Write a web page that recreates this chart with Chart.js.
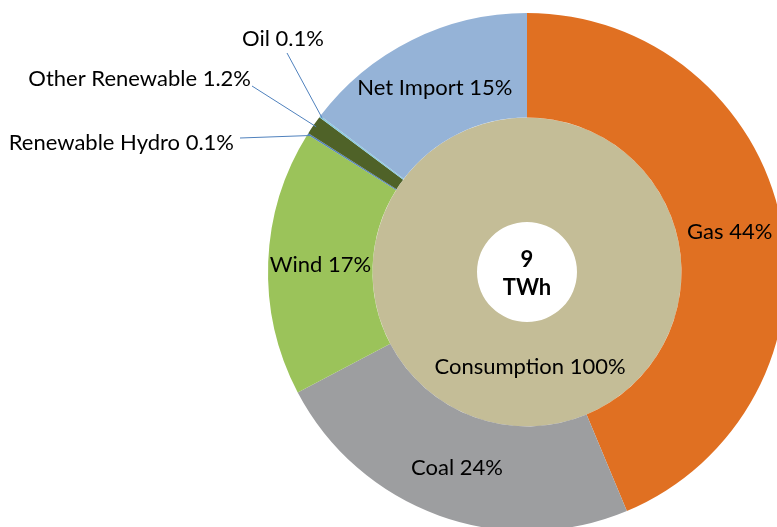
<!DOCTYPE html>
<html>
<head>
<meta charset="utf-8">
<script src="https://cdn.jsdelivr.net/npm/chart.js@4.4.1/dist/chart.umd.min.js"></script>
<style>
  html, body { margin: 0; padding: 0; background: #fff; overflow: hidden; width: 777px; height: 527px; }
  #chart { position: absolute; left: 0; top: 0; }
</style>
</head>
<body>
<canvas id="chart" width="800" height="560"></canvas>
<script>
const sources = ["Gas", "Coal", "Wind", "Renewable Hydro", "Other Renewable", "Oil", "Net Import"];
const sourceShares = [43.7, 23.6, 16.6, 0.1, 1.2, 0.1, 14.7];
const sourceColors = ["#E07022", "#9D9EA0", "#9BC35A", "#4F81BD", "#4F6228", "#8CCBE0", "#95B3D7"];
const uses = ["Consumption"];
const useShares = [100];
const useColors = ["#C4BD97"];
const totalLabel = ["9", "TWh"];

const FONT = "Lato, 'Open Sans', sans-serif";
const fmt = v => (v < 2 ? v.toFixed(1) : Math.round(v)) + "%";

// where the small slices get their callout text (right edge / centre of text)
const callouts = {
  "Renewable Hydro": { x: 234, y: 143, align: "right", lx: 240, ly: 138 },
  "Other Renewable": { x: 251, y: 79, align: "right", lx: 252, ly: 86 },
  "Oil": { x: 283, y: 39, align: "center", lx: 287, ly: 53 }
};

const labelPlugin = {
  id: "sliceLabels",
  afterDatasetsDraw(chart) {
    const ctx = chart.ctx;
    ctx.save();
    ctx.fillStyle = "#000";
    ctx.textBaseline = "middle";
    ctx.font = "22px " + FONT;
    chart.data.datasets.forEach((ds, di) => {
      const meta = chart.getDatasetMeta(di);
      meta.data.forEach((arc, i) => {
        const name = chart.data.labels[di][i];
        const text = name + " " + fmt(ds.data[i]);
        const c = callouts[name];
        if (c) {
          const p = arc.getProps(["x", "y", "startAngle", "endAngle", "outerRadius"], true);
          const a = (p.startAngle + p.endAngle) / 2;
          const r = p.outerRadius - 3;
          ctx.strokeStyle = "#4F81BD";
          ctx.lineWidth = 1;
          ctx.beginPath();
          ctx.moveTo(c.lx, c.ly);
          ctx.lineTo(p.x + Math.cos(a) * r, p.y + Math.sin(a) * r);
          ctx.stroke();
          ctx.textAlign = c.align;
          ctx.fillText(text, c.x, c.y);
          return;
        }
        const pos = arc.tooltipPosition();
        ctx.textAlign = "center";
        ctx.fillText(text, di === 1 ? pos.x + 3 : pos.x, di === 1 ? pos.y - 7 : pos.y + 1);
      });
    });
    // centre total
    const m = chart.getDatasetMeta(0).data[0];
    ctx.font = "bold 22px " + FONT;
    ctx.textAlign = "center";
    ctx.fillText(totalLabel[0], m.x, m.y - 12);
    ctx.fillText(totalLabel[1], m.x, m.y + 16);
    ctx.restore();
  }
};

new Chart(document.getElementById("chart"), {
  type: "doughnut",
  data: {
    labels: [sources, uses],
    datasets: [
      { data: sourceShares, backgroundColor: sourceColors, borderWidth: 0 },
      { data: useShares, backgroundColor: useColors, borderWidth: 0 }
    ]
  },
  options: {
    responsive: false,
    animation: false,
    devicePixelRatio: 1,
    cutout: "19.3%",
    layout: { padding: { left: 268, top: 13, right: 14, bottom: 29 } },
    plugins: { legend: { display: false }, tooltip: { enabled: false } },
    hover: { mode: null }
  },
  plugins: [labelPlugin]
});
</script>
</body>
</html>
